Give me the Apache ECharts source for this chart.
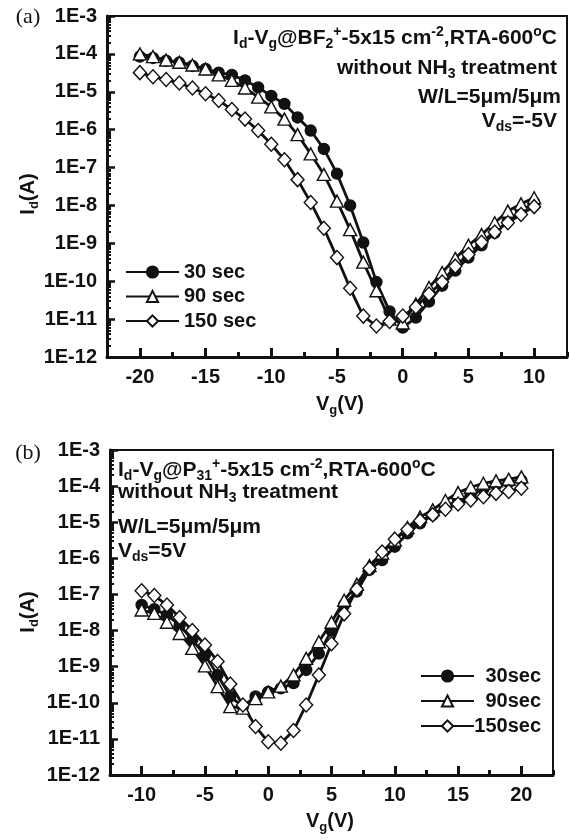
<!DOCTYPE html>
<html>
<head>
<meta charset="utf-8">
<script src="https://cdn.jsdelivr.net/npm/echarts@6/dist/echarts.min.js"></script>
<style>
html, body { margin: 0; padding: 0; background: #fff; }
#chart { width: 570px; height: 840px; }
</style>
</head>
<body>
<div id="chart"></div>
<script>
// ---- (a) BF2+ implanted, Vds = -5 V ----
const vgA = [-20, -19, -18, -17, -16, -15, -14, -13, -12, -11, -10, -9, -8, -7, -6, -5,
             -4, -3, -2, -1, 0, 1, 2, 3, 4, 5, 6, 7, 8, 9, 10];
const idA30 = [8.5e-5, 7.8e-5, 6.6e-5, 5.9e-5, 4.8e-5, 4.0e-5, 3.2e-5, 2.8e-5, 2.0e-5, 1.3e-5,
               7.8e-6, 4.8e-6, 2.1e-6, 9.5e-7, 3.1e-7, 6.9e-8, 1.0e-8, 1.05e-9, 9.5e-11, 1.6e-11,
               6.0e-12, 1.1e-11, 2.9e-11, 7.6e-11, 1.9e-10, 4.2e-10, 8.9e-10, 1.9e-9, 3.9e-9, 7.1e-9, 1.2e-8];
const idA90 = [1.0e-4, 8.5e-5, 6.9e-5, 6.0e-5, 5.1e-5, 4.0e-5, 2.8e-5, 2.0e-5, 1.26e-5, 7.2e-6,
               4.0e-6, 1.9e-6, 7.4e-7, 2.3e-7, 6.6e-8, 1.3e-8, 2.3e-9, 3.2e-10, 5.6e-11, 1.0e-11,
               7.9e-12, 2.5e-11, 6.8e-11, 1.7e-10, 4.0e-10, 8.9e-10, 1.7e-9, 3.5e-9, 7.1e-9, 1.1e-8, 1.6e-8];
const idA150 = [3.2e-5, 2.5e-5, 2.1e-5, 1.7e-5, 1.26e-5, 8.9e-6, 5.9e-6, 3.4e-6, 1.9e-6, 9.5e-7,
                4.1e-7, 1.6e-7, 4.8e-8, 1.2e-8, 2.5e-9, 4.2e-10, 6.5e-11, 1.2e-11, 6.6e-12, 8.7e-12,
                1.2e-11, 2.1e-11, 4.6e-11, 9.5e-11, 2.5e-10, 5.1e-10, 1.07e-9, 2.0e-9, 3.5e-9, 5.8e-9, 9.3e-9];
const namesA = ['30 sec', '90 sec', '150 sec'];
const xMajorA = [-20, -15, -10, -5, 0, 5, 10];
const xMinorA = [-22.5, -17.5, -12.5, -7.5, -2.5, 2.5, 7.5, 12.5];

// ---- (b) P31+ implanted, Vds = 5 V ----
const vgB = [-10, -9, -8, -7, -6, -5, -4, -3, -2, -1, 0, 1, 2, 3, 4, 5,
             6, 7, 8, 9, 10, 11, 12, 13, 14, 15, 16, 17, 18, 19, 20];
const idB30 = [5.1e-8, 3.9e-8, 2.7e-8, 1.4e-8, 5.5e-9, 2.1e-9, 5.9e-10, 1.5e-10, 7.8e-11, 1.5e-10,
               2.0e-10, 2.5e-10, 3.5e-10, 8.1e-10, 2.3e-9, 1.0e-8, 5.1e-8, 1.2e-7, 4.8e-7, 8.9e-7,
               2.1e-6, 4.9e-6, 9.3e-6, 1.6e-5, 2.7e-5, 4.1e-5, 6.0e-5, 8.3e-5, 1.07e-4, 1.26e-4, 1.45e-4];
const idB90 = [3.7e-8, 3.0e-8, 1.7e-8, 8.3e-9, 3.2e-9, 1.05e-9, 2.8e-10, 7.8e-11, 7.1e-11, 1.3e-10,
               2.0e-10, 2.9e-10, 5.9e-10, 1.7e-9, 4.9e-9, 1.7e-8, 6.9e-8, 1.9e-7, 6.3e-7, 1.4e-6,
               3.2e-6, 7.1e-6, 1.4e-5, 2.2e-5, 4.0e-5, 6.6e-5, 9.3e-5, 1.2e-4, 1.4e-4, 1.55e-4, 1.8e-4];
const idB150 = [1.26e-7, 9.3e-8, 5.1e-8, 2.3e-8, 1.0e-8, 4.0e-9, 1.4e-9, 3.3e-10, 8.7e-11, 2.2e-11,
                8.3e-12, 7.6e-12, 1.7e-11, 8.7e-11, 5.9e-10, 4.3e-9, 2.9e-8, 1.4e-7, 5.2e-7, 1.5e-6,
                3.4e-6, 6.3e-6, 1.1e-5, 1.6e-5, 2.3e-5, 3.2e-5, 4.1e-5, 5.1e-5, 6.3e-5, 7.1e-5, 8.7e-5];
const namesB = ['30sec', '90sec', '150sec'];
const xMajorB = [-10, -5, 0, 5, 10, 15, 20];
const xMinorB = [-12.5, -7.5, -2.5, 2.5, 7.5, 12.5, 17.5, 22.5];

// ---- shared log current axis: decades 1E-12 .. 1E-3 ----
const yDecades = [1e-12, 1e-11, 1e-10, 1e-9, 1e-8, 1e-7, 1e-6, 1e-5, 1e-4, 1e-3];
const yMinor = [];
yDecades.slice(0, -1).forEach(d => { for (let k = 2; k <= 9; k++) yMinor.push(k * d); });

const FONT = '"Liberation Sans", Arial, Helvetica, sans-serif';
const INK = '#111';

function pairs(xs, ys) { return xs.map((x, i) => [x, ys[i]]); }

function xAxes(grid, min, max, major, minor) {
  return [
    {
      gridIndex: grid, type: 'value', min: min, max: max, position: 'bottom',
      axisLine: { show: true, onZero: false, lineStyle: { color: INK, width: 3 } },
      axisTick: { show: true, inside: true, length: 9, customValues: major, lineStyle: { color: INK, width: 3 } },
      axisLabel: { show: true, customValues: major, margin: 10, fontSize: 20, fontWeight: 'bold', fontFamily: FONT, color: INK },
      splitLine: { show: false }
    },
    {
      gridIndex: grid, type: 'value', min: min, max: max, position: 'bottom', offset: 0,
      axisLine: { show: false, onZero: false },
      axisTick: { show: true, inside: true, length: 5, customValues: minor, lineStyle: { color: INK, width: 3 } },
      axisLabel: { show: false },
      splitLine: { show: false }
    }
  ];
}

function yAxes(grid) {
  return [
    {
      gridIndex: grid, type: 'log', logBase: 10, min: 1e-12, max: 1e-3, position: 'left',
      axisLine: { show: true, onZero: false, lineStyle: { color: INK, width: 3 } },
      axisTick: { show: true, inside: true, length: 8, customValues: yDecades, lineStyle: { color: INK, width: 2.5 } },
      axisLabel: {
        show: true, customValues: yDecades, margin: 10, fontSize: 20, fontWeight: 'bold', fontFamily: FONT, color: INK,
        formatter: v => '1E' + Math.round(Math.log10(v))
      },
      splitLine: { show: false }
    },
    {
      gridIndex: grid, type: 'log', logBase: 10, min: 1e-12, max: 1e-3, position: 'left', offset: 0,
      axisLine: { show: false, onZero: false },
      axisTick: { show: true, inside: true, length: 4, customValues: yMinor, lineStyle: { color: INK, width: 2 } },
      axisLabel: { show: false },
      splitLine: { show: false }
    }
  ];
}

const marks = [
  { symbol: 'circle', size: 11, fill: INK },
  { symbol: 'triangle', size: [13, 12], fill: '#fff' },
  { symbol: 'diamond', size: [13, 14], fill: '#fff' }
];

function lineSeries(name, data, xi, yi, mk) {
  return {
    name: name, type: 'line', xAxisIndex: xi, yAxisIndex: yi, data: data,
    symbol: mk.symbol, symbolSize: mk.size, showAllSymbol: true,
    lineStyle: { color: INK, width: 2.8 },
    itemStyle: { color: mk.fill, borderColor: INK, borderWidth: 1.4 },
    emphasis: { disabled: true },
    animation: false
  };
}

const series = [];
[idA30, idA90, idA150].forEach((ys, i) => series.push(lineSeries(namesA[i], pairs(vgA, ys), 0, 0, marks[i])));
[idB30, idB90, idB150].forEach((ys, i) => series.push(lineSeries(namesB[i], pairs(vgB, ys), 2, 2, marks[i])));

function richSet(size) {
  const sub = Math.round(size * 0.65);
  return {
    b: { fontSize: size, fontWeight: 'bold', fontFamily: FONT, fill: INK, lineHeight: 26, verticalAlign: 'middle' },
    s: { fontSize: sub, fontWeight: 'bold', fontFamily: FONT, fill: INK, lineHeight: 26, verticalAlign: 'bottom' },
    p: { fontSize: sub, fontWeight: 'bold', fontFamily: FONT, fill: INK, lineHeight: 26, verticalAlign: 'top' }
  };
}
const richAxis = richSet(20);
const richNote = richSet(21);

function label(text, x, y, align, rich, rotation) {
  return {
    type: 'text', x: x, y: y, rotation: rotation || 0, z: 100,
    style: { text: text, rich: rich, align: align, verticalAlign: 'middle' }
  };
}

const panelFont = '22px "Liberation Serif", "Times New Roman", serif';
const graphics = [
  { type: 'text', x: 28, y: 17, z: 100, style: { text: '(a)', font: panelFont, fill: INK, align: 'center', verticalAlign: 'middle' } },
  { type: 'text', x: 28, y: 453, z: 100, style: { text: '(b)', font: panelFont, fill: INK, align: 'center', verticalAlign: 'middle' } },
  label('{b|I}{s|d}{b|(A)}', 28, 194, 'center', richAxis, Math.PI / 2),
  label('{b|I}{s|d}{b|(A)}', 28, 612, 'center', richAxis, Math.PI / 2),
  label('{b|V}{s|g}{b|(V)}', 340, 404, 'center', richAxis),
  label('{b|V}{s|g}{b|(V)}', 330, 821, 'center', richAxis),
  // panel (a) conditions
  label('{b|I}{s|d}{b|-V}{s|g}{b|@BF}{s|2}{p|+}{b|-5x15 cm}{p|-2}{b|,RTA-600}{p|o}{b|C}', 557, 38.5, 'right', richNote),
  label('{b|without NH}{s|3}{b| treatment}', 557, 68.5, 'right', richNote),
  label('{b|W/L=5μm/5μm}', 561, 97, 'right', richNote),
  label('{b|V}{s|ds}{b|=-5V}', 557, 121.5, 'right', richNote),
  // panel (b) conditions
  label('{b|I}{s|d}{b|-V}{s|g}{b|@P}{s|31}{p|+}{b|-5x15 cm}{p|-2}{b|,RTA-600}{p|o}{b|C}', 118, 470, 'left', richNote),
  label('{b|without NH}{s|3}{b| treatment}', 118, 492.5, 'left', richNote),
  label('{b|W/L=5μm/5μm}', 118, 527, 'left', richNote),
  label('{b|V}{s|ds}{b|=5V}', 118, 551.5, 'left', richNote)
];

const legendText = { fontSize: 20, fontWeight: 'bold', fontFamily: FONT, color: INK, lineHeight: 24 };

const option = {
  backgroundColor: '#fff',
  animation: false,
  grid: [
    { left: 107, top: 16, width: 460, height: 341, show: true, borderColor: INK, borderWidth: 2, backgroundColor: 'transparent' },
    { left: 110, top: 450, width: 443, height: 325, show: true, borderColor: INK, borderWidth: 2, backgroundColor: 'transparent' }
  ],
  xAxis: xAxes(0, -22.5, 12.5, xMajorA, xMinorA).concat(xAxes(1, -12.5, 22.5, xMajorB, xMinorB)),
  yAxis: yAxes(0).concat(yAxes(1)),
  legend: [
    {
      data: namesA, orient: 'vertical', left: 125, top: 260, itemWidth: 53, itemHeight: 14, itemGap: 0.5,
      padding: 0, textStyle: legendText, selectedMode: false
    },
    {
      data: namesB, orient: 'vertical', left: 420, top: 664, itemWidth: 53, itemHeight: 14, itemGap: 1,
      padding: 0, selectedMode: false,
      formatter: n => '{r|' + n + '}',
      textStyle: Object.assign({}, legendText, {
        rich: { r: { width: 62, align: 'right', fontSize: 20, fontWeight: 'bold', fontFamily: FONT, color: INK, lineHeight: 24 } }
      })
    }
  ],
  graphic: graphics,
  series: series
};

const chart = echarts.init(document.getElementById('chart'), null, { renderer: 'canvas' });
chart.setOption(option);
</script>
</body>
</html>
